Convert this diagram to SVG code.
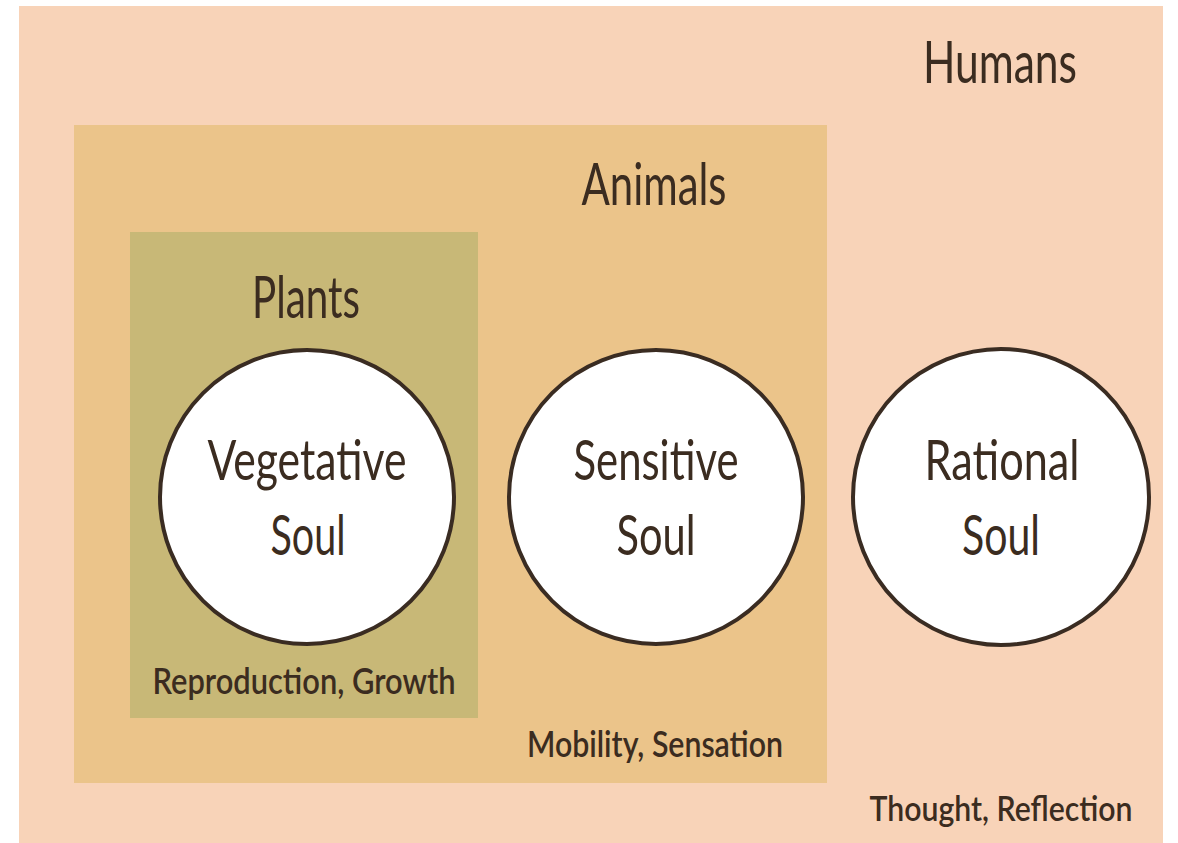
<svg xmlns="http://www.w3.org/2000/svg" width="1178" height="843" viewBox="0 0 1178 843">
<style>
.t{font-family:Lato,"Open Sans","Liberation Sans",sans-serif;fill:#3b2c20;text-anchor:middle}
.big{font-size:58px}
.soulT{font-size:56px}
.sm{font-size:37px;font-weight:600}
.sm2{font-size:34px;font-weight:600}
.soul{fill:#ffffff;stroke:#3a2c22;stroke-width:4}
</style>
<rect width="1178" height="843" fill="#ffffff"/>
<g id="humans">
<rect x="19" y="6" width="1144" height="837" fill="#f8d3b8"/>
<text class="t big" x="1000" y="83" textLength="154" lengthAdjust="spacingAndGlyphs">Humans</text>
<text class="t sm2" x="1001" y="821" textLength="263" lengthAdjust="spacingAndGlyphs">Thought, Reflection</text>
</g>
<g id="animals">
<rect x="74" y="125" width="753" height="658" fill="#ebc48a"/>
<text class="t big" x="654" y="205" textLength="145" lengthAdjust="spacingAndGlyphs">Animals</text>
<text class="t sm" x="655" y="757" textLength="256" lengthAdjust="spacingAndGlyphs">Mobility, Sensation</text>
</g>
<g id="plants">
<rect x="130" y="232" width="348" height="486" fill="#c8b877"/>
<text class="t big" x="306" y="318" textLength="108" lengthAdjust="spacingAndGlyphs">Plants</text>
<text class="t sm" x="304" y="694" textLength="303" lengthAdjust="spacingAndGlyphs">Reproduction, Growth</text>
</g>
<g id="vegetative">
<circle class="soul" cx="307" cy="497" r="147"/>
<text class="t soulT" x="307" y="480" textLength="199" lengthAdjust="spacingAndGlyphs">Vegetative</text>
<text class="t soulT" x="308" y="555" textLength="75" lengthAdjust="spacingAndGlyphs">Soul</text>
</g>
<g id="sensitive">
<circle class="soul" cx="656" cy="497" r="147"/>
<text class="t soulT" x="656" y="480" textLength="165" lengthAdjust="spacingAndGlyphs">Sensitive</text>
<text class="t soulT" x="656" y="555" textLength="79" lengthAdjust="spacingAndGlyphs">Soul</text>
</g>
<g id="rational">
<circle class="soul" cx="1001" cy="497" r="148"/>
<text class="t soulT" x="1002" y="480" textLength="155" lengthAdjust="spacingAndGlyphs">Rational</text>
<text class="t soulT" x="1001" y="555" textLength="78" lengthAdjust="spacingAndGlyphs">Soul</text>
</g>
<g id="connectors"></g>
</svg>
